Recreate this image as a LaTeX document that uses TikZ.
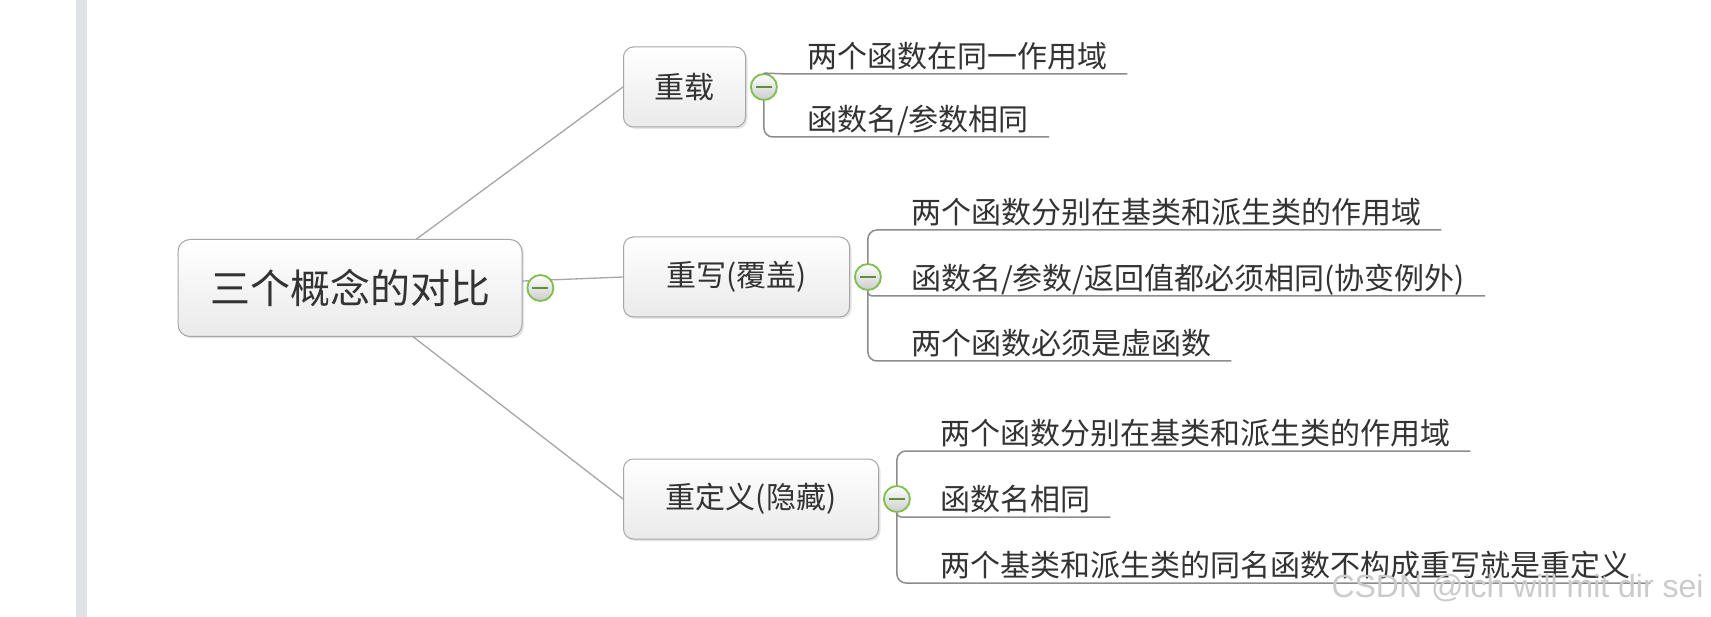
\documentclass[tikz,border=0pt]{standalone}
\usepackage{fontspec}
\setmainfont{Noto Sans CJK SC}
\newfontfamily\wmfont{Liberation Sans}
\usetikzlibrary{positioning,shadows,backgrounds}

\definecolor{linegray}{HTML}{8C8C8C}
\definecolor{boxgray}{HTML}{A6A6A6}
\definecolor{boxfill}{HTML}{EAEAEA}
\definecolor{txtgray}{HTML}{333333}
\definecolor{foldgreen}{HTML}{7DBE4F}
\definecolor{sidebar}{HTML}{DFE3E7}
\definecolor{wmgray}{HTML}{CBCBCB}

\tikzset{topicbox/.style = {rectangle, draw=boxgray, line width=1pt, rounded corners=10pt,
                            top color=white, bottom color=boxfill, text=txtgray,
                            drop shadow={shadow xshift=2pt, shadow yshift=-2pt, opacity=.2},
                            font=\fontsize{30}{30}\selectfont, minimum height=80pt},
         rootbox/.style = {topicbox, rounded corners=12pt, minimum width=344pt,
                           minimum height=97pt, font=\fontsize{40}{40}\selectfont},
         foldmark/.style = {circle, draw=foldgreen, line width=1.8pt, minimum size=26pt,
                            inner sep=0pt, top color=white, bottom color=gray!40,
                            path picture={\draw[line width=2pt, foldgreen!75!black]
                              ([xshift=-8pt]path picture bounding box.center) --
                              ([xshift=8pt]path picture bounding box.center);}},
         leafitem/.style = {anchor=south west, inner xsep=20pt, inner ysep=6pt, text depth=0pt,
                            text=txtgray, font=\fontsize{30}{30}\selectfont},
         branchline/.style = {draw=boxgray, line width=1.3pt},
         twigline/.style = {draw=linegray, line width=1.5pt, rounded corners=#1},
         twigline/.default=9pt
        }

\begin{document}
\begin{tikzpicture}[x=1pt, y=-1pt]
  \useasboundingbox (0,0) rectangle (1711,617);
  % centre and the three topics
  \node[rootbox] (root) at (350,288) {三个概念的对比};
  \node[foldmark, right=4pt of root] (c0) {};
  \node[topicbox, anchor=west, minimum width=122pt] (t1) at (623,87) {重载};
  \node[topicbox, anchor=west, minimum width=226pt] (t2) at (623,277) {重写(覆盖)};
  \node[topicbox, anchor=west, minimum width=255pt] (t3) at (623,499) {重定义(隐藏)};
  \node[foldmark, right=4pt of t1] (c1) {};
  \node[foldmark, right=4pt of t2] (c2) {};
  \node[foldmark, right=4pt of t3] (c3) {};

  % leaves
  \node[leafitem] (l11) at (787,74)  {两个函数在同一作用域};
  \node[leafitem] (l12) at (787,137) {函数名/参数相同};
  \node[leafitem] (l21) at (891,230) {两个函数分别在基类和派生类的作用域};
  \node[leafitem] (l22) at (891,296) {函数名/参数/返回值都必须相同(协变例外)};
  \node[leafitem] (l23) at (891,361) {两个函数必须是虚函数};
  \node[leafitem] (l31) at (920,451) {两个函数分别在基类和派生类的作用域};
  \node[leafitem] (l32) at (920,517) {函数名相同};
  \node[leafitem] (l33) at (920,583) {两个基类和派生类的同名函数不构成重写就是重定义};

  \draw[twigline] (c1.north) -- (l11.south west) -- (l11.south east);
  \draw[twigline] (c1.south) |- (l12.south west) -- (l12.south east);
  \draw[twigline] (c2.north) |- (l21.south west) -- (l21.south east);
  \draw[twigline=4pt] (c2.south) |- (l22.south west) -- (l22.south east);
  \draw[twigline] (c2.south) |- (l23.south west) -- (l23.south east);
  \draw[twigline] (c3.north) |- (l31.south west) -- (l31.south east);
  \draw[twigline=4pt] (c3.south) |- (l32.south west) -- (l32.south east);
  \draw[twigline] (c3.south) |- (l33.south west) -- (l33.south east);

  \node[anchor=base west, text=wmgray, font=\wmfont\fontsize{32}{32}\selectfont] (wm)
    at (1328,597) {CSDN @ich will mit dir sei};

  \begin{scope}[on background layer]
    \fill[white] (0,0) rectangle (1711,617);
    \fill[sidebar] (76,0) rectangle (87,617);
    \draw[branchline] (root.center) -- (t1.west);
    \draw[branchline] (root.center) -- (t2.west);
    \draw[branchline] (root.center) -- (t3.west);
  \end{scope}
\end{tikzpicture}
\end{document}
